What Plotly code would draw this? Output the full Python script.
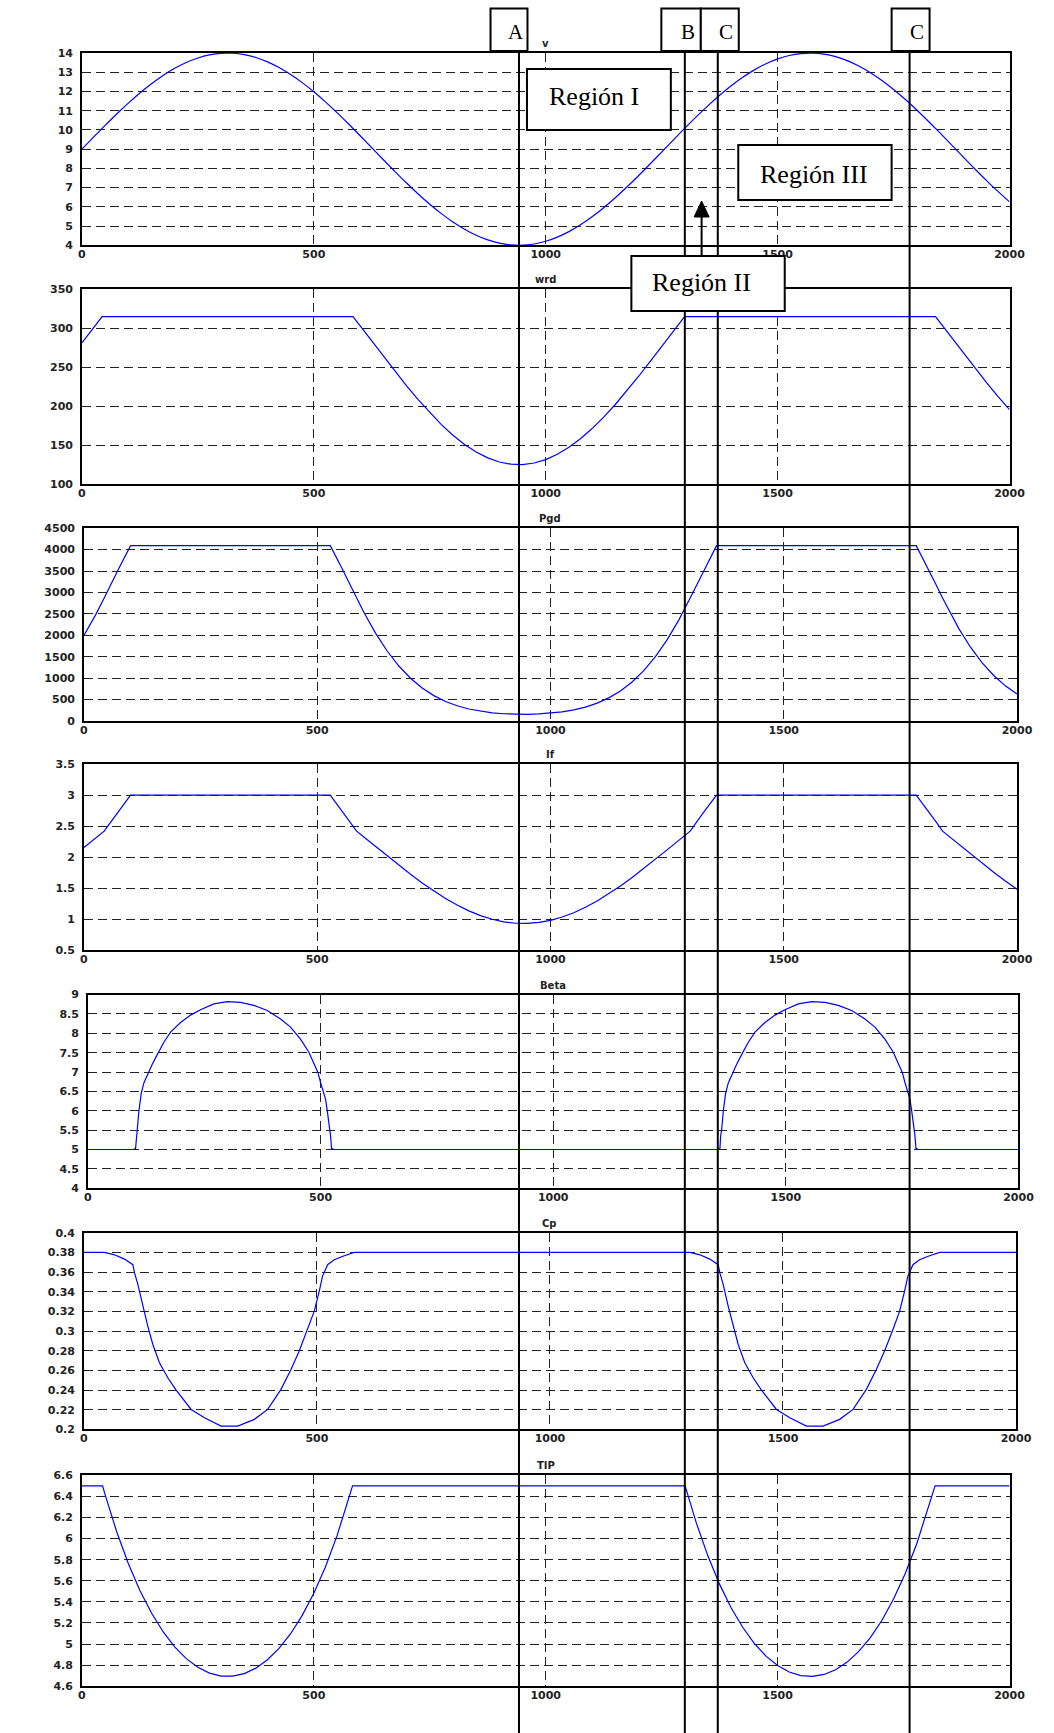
import plotly.graph_objects as go

W, H = 1054, 1733
# placement of the layout grid on the page
SX, DX = 0.982, 3.5
SY, DY = 0.993, 4.9

# ---------------- data ----------------
x_v = [0, 25, 50, 75, 100, 125, 150, 175, 200, 225, 250, 275, 300, 325, 350, 375, 400,
       425, 450, 475, 500, 525, 550, 575, 600, 625, 650, 675, 700, 725, 750, 775, 800,
       825, 850, 875, 900, 925, 950, 975, 1000, 1025, 1050, 1075, 1100, 1125, 1150,
       1175, 1200, 1225, 1250, 1275, 1300, 1325, 1350, 1375, 1400, 1425, 1450, 1475,
       1500, 1525, 1550, 1575, 1600, 1625, 1650, 1675, 1700, 1725, 1750, 1775, 1800,
       1825, 1850, 1875, 1900, 1925, 1950, 1975, 2000]
v_vals = [9.000, 9.624, 10.238, 10.832, 11.398, 11.927, 12.409, 12.840, 13.209, 13.513,
          13.746, 13.905, 13.988, 13.992, 13.919, 13.769, 13.544, 13.249, 12.888, 12.463,
          11.988, 11.463, 10.902, 10.310, 9.698, 9.075, 8.451, 7.835, 7.238, 6.668, 6.134,
          5.646, 5.211, 4.833, 4.520, 4.278, 4.110, 4.018, 4.004, 4.068, 4.209, 4.425,
          4.712, 5.067, 5.482, 5.953, 6.471, 7.029, 7.618, 8.228, 8.850, 9.475, 10.092,
          10.692, 11.266, 11.804, 12.299, 12.741, 13.126, 13.446, 13.697, 13.874, 13.975,
          13.998, 13.944, 13.812, 13.605, 13.326, 12.979, 12.571, 12.107, 11.594, 11.040,
          10.454, 9.846, 9.225, 8.600, 7.982, 7.379, 6.802, 6.259]

x_wrd = [0, 25, 43.5, 584.5, 600, 625, 650, 675, 700, 725, 750, 775, 800, 825, 850, 875,
         900, 925, 950, 975, 1000, 1025, 1050, 1075, 1100, 1125, 1150, 1175, 1200, 1225,
         1250, 1275, 1299.5, 1840.5, 1850, 1875, 1900, 1925, 1950, 1975, 2000]
wrd_vals = [281.3, 300.8, 315, 315, 303.1, 283.6, 264.1, 244.8, 226.2, 208.4, 191.7,
            176.4, 162.8, 151.0, 141.3, 133.7, 128.4, 125.6, 125.1, 127.1, 131.5, 138.3,
            147.3, 158.3, 171.3, 186.0, 202.2, 219.7, 238.1, 257.1, 276.6, 296.1, 315,
            315, 307.7, 288.3, 268.8, 249.4, 230.6, 212.6, 195.6]

x_pgd = [0, 25, 43.5, 50, 75, 100, 528, 550, 575, 584.5, 600, 625, 650, 675, 700, 725,
         750, 775, 800, 825, 850, 875, 900, 925, 950, 975, 1000, 1025, 1050, 1075, 1100,
         1125, 1150, 1175, 1200, 1225, 1250, 1275, 1299.5, 1325, 1350, 1356, 1784, 1800,
         1825, 1840.5, 1850, 1875, 1900, 1925, 1950, 1975, 2000]
pgd_vals = [1997, 2476, 2868, 3014, 3564, 4090, 4090, 3629, 3081, 2868, 2537, 2051, 1634,
            1284, 999, 771, 593, 457, 356, 281, 228, 192, 170, 158, 157, 165, 183, 214,
            260, 326, 417, 540, 701, 911, 1175, 1501, 1893, 2355, 2868, 3435, 3966, 4090,
            4090, 3757, 3214, 2868, 2664, 2162, 1728, 1362, 1062, 821, 632]

x_if = x_pgd
if_vals = [2.155, 2.308, 2.42, 2.489, 2.750, 3.0, 3.0, 2.781, 2.521, 2.42, 2.326, 2.173,
           2.020, 1.870, 1.723, 1.584, 1.453, 1.333, 1.227, 1.134, 1.057, 0.998, 0.957,
           0.934, 0.931, 0.947, 0.981, 1.034, 1.104, 1.191, 1.293, 1.408, 1.535, 1.672,
           1.816, 1.966, 2.118, 2.271, 2.42, 2.689, 2.941, 3.0, 3.0, 2.842, 2.584, 2.42,
           2.362, 2.210, 2.057, 1.906, 1.758, 1.616, 1.483]

x_beta = [0, 98.9, 102.4, 103.9, 106, 109.6, 114.6, 120.3, 131, 138.3, 149, 163.3, 177.7,
          199.1, 220.6, 242, 270.8, 299.4, 328, 356.7, 385.4, 414, 435.5, 457, 474.9,
          485.7, 494.3, 500, 505.7, 510.7, 514.3, 517.9, 521.5, 523.6, 528.7,
          1354.9, 1358.4, 1359.9, 1362, 1365.6, 1370.6, 1376.3, 1387, 1394.3, 1405,
          1419.3, 1433.7, 1455.1, 1476.6, 1498, 1526.8, 1555.4, 1584, 1612.7, 1641.4,
          1670, 1691.5, 1713, 1730.9, 1741.7, 1750.3, 1756, 1761.7, 1766.7, 1770.3,
          1773.9, 1777.5, 1779.6, 1784.7, 2000]
beta_vals = [5.0, 5.0, 5.03, 5.35, 5.51, 6.0, 6.45, 6.72, 7.03, 7.2, 7.45, 7.77, 8.03,
             8.28, 8.47, 8.61, 8.76, 8.82, 8.80, 8.72, 8.59, 8.37, 8.16, 7.85, 7.51, 7.21,
             6.99, 6.73, 6.51, 6.30, 6.01, 5.70, 5.35, 5.03, 5.0,
             5.0, 5.03, 5.35, 5.51, 6.0, 6.45, 6.72, 7.03, 7.2, 7.45, 7.77, 8.03, 8.28,
             8.47, 8.61, 8.76, 8.82, 8.80, 8.72, 8.59, 8.37, 8.16, 7.85, 7.51, 7.21, 6.99,
             6.73, 6.51, 6.30, 6.01, 5.70, 5.35, 5.03, 5.0, 5.0]

x_cp = [0, 44, 65.7, 87, 105, 108.6, 115.7, 126.4, 137, 147.9, 162.1, 180, 197.9, 230,
        258.6, 294.3, 330, 365.7, 394.3, 422.9, 444.3, 462, 480, 494.3, 505, 512, 522.9,
        537, 558.6, 580,
        1300, 1321.7, 1343, 1361, 1364.6, 1371.7, 1382.4, 1393, 1403.9, 1418.1, 1436,
        1453.9, 1486, 1514.6, 1550.3, 1586, 1621.7, 1650.3, 1678.9, 1700.3, 1718, 1736,
        1750.3, 1761, 1768, 1778.9, 1793, 1814.6, 1836, 2000]
cp_vals = [0.380, 0.380, 0.3776, 0.3732, 0.3675, 0.3593, 0.3475, 0.3254, 0.3051, 0.2864,
           0.2678, 0.2525, 0.2400, 0.2203, 0.2119, 0.2034, 0.2034, 0.2102, 0.2203, 0.2407,
           0.2610, 0.2797, 0.3017, 0.3203, 0.3407, 0.3559, 0.3675, 0.3725, 0.3766, 0.380,
           0.380, 0.3776, 0.3732, 0.3675, 0.3593, 0.3475, 0.3254, 0.3051, 0.2864, 0.2678,
           0.2525, 0.2400, 0.2203, 0.2119, 0.2034, 0.2034, 0.2102, 0.2203, 0.2407, 0.2610,
           0.2797, 0.3017, 0.3203, 0.3407, 0.3559, 0.3675, 0.3725, 0.3766, 0.380, 0.380]

x_tip = [0, 44.5, 50, 75, 100, 125, 150, 175, 200, 225, 250, 275, 300, 325, 350, 375,
         400, 425, 450, 475, 500, 525, 550, 575, 583.5, 1300.5, 1325, 1350, 1375, 1400,
         1425, 1450, 1475, 1500, 1525, 1550, 1575, 1600, 1625, 1650, 1675, 1700, 1725,
         1750, 1775, 1800, 1825, 1839.5, 2000]
tip_vals = [6.5, 6.5, 6.417, 6.065, 5.764, 5.508, 5.295, 5.117, 4.974, 4.862, 4.780,
            4.725, 4.697, 4.696, 4.720, 4.772, 4.851, 4.959, 5.098, 5.272, 5.481, 5.731,
            6.026, 6.372, 6.5, 6.5, 6.145, 5.832, 5.566, 5.342, 5.157, 5.005, 4.886,
            4.797, 4.735, 4.701, 4.694, 4.712, 4.757, 4.829, 4.930, 5.062, 5.226, 5.427,
            5.667, 5.951, 6.285, 6.5, 6.5]

x_ticks = [0, 500, 1000, 1500, 2000]
x_tick_text = ["0", "500", "1000", "1500", "2000"]

titles = ["v", "wrd", "Pgd", "If", "Beta", "Cp", "TIP"]
y_ticks = [
    [4, 5, 6, 7, 8, 9, 10, 11, 12, 13, 14],
    [100, 150, 200, 250, 300, 350],
    [0, 500, 1000, 1500, 2000, 2500, 3000, 3500, 4000, 4500],
    [0.5, 1, 1.5, 2, 2.5, 3, 3.5],
    [4, 4.5, 5, 5.5, 6, 6.5, 7, 7.5, 8, 8.5, 9],
    [0.2, 0.22, 0.24, 0.26, 0.28, 0.3, 0.32, 0.34, 0.36, 0.38, 0.4],
    [4.6, 4.8, 5, 5.2, 5.4, 5.6, 5.8, 6, 6.2, 6.4, 6.6],
]
y_tick_text = [
    ["4", "5", "6", "7", "8", "9", "10", "11", "12", "13", "14"],
    ["100", "150", "200", "250", "300", "350"],
    ["0", "500", "1000", "1500", "2000", "2500", "3000", "3500", "4000", "4500"],
    ["0.5", "1", "1.5", "2", "2.5", "3", "3.5"],
    ["4", "4.5", "5", "5.5", "6", "6.5", "7", "7.5", "8", "8.5", "9"],
    ["0.2", "0.22", "0.24", "0.26", "0.28", "0.3", "0.32", "0.34", "0.36", "0.38", "0.4"],
    ["4.6", "4.8", "5", "5.2", "5.4", "5.6", "5.8", "6", "6.2", "6.4", "6.6"],
]

series = [(x_v, v_vals), (x_wrd, wrd_vals), (x_pgd, pgd_vals), (x_if, if_vals),
          (x_beta, beta_vals), (x_cp, cp_vals), (x_tip, tip_vals)]

# panel frames in layout pixels: left, right, top, bottom
frames = [
    (81.5, 1010, 52, 244.3),
    (81.5, 1010, 288.3, 483.3),
    (83.5, 1017.5, 527.3, 720.3),
    (83.5, 1017.5, 763.5, 949.5),
    (87.5, 1019, 994, 1187.7),
    (83.5, 1016.5, 1232.3, 1429),
    (81.5, 1010, 1475, 1686),
]


def px(x):
    return ((x - DX) / SX) / W


def py(y):
    return 1 - ((y - DY) / SY) / H


tick_font = dict(family="DejaVu Sans", size=11, color="#222", weight="bold")
grid = dict(showgrid=True, gridcolor="#222", gridwidth=1, griddash="9px,5px",
            showline=True, mirror=True, linecolor="black", linewidth=1.5,
            zeroline=False, ticks="", tickfont=tick_font)

fig = go.Figure()
layout = dict(width=W, height=H, margin=dict(l=0, r=0, t=0, b=0),
              paper_bgcolor="white", plot_bgcolor="white", showlegend=False)

annotations = []
for i, ((xs, ys), (l, r, t, b)) in enumerate(zip(series, frames)):
    n = "" if i == 0 else str(i + 1)
    fig.add_trace(go.Scatter(x=xs, y=ys, mode="lines",
                             line=dict(color="#0000ff", width=1.2,
                                       shape="spline" if i == 0 else "linear"),
                             xaxis="x" + n, yaxis="y" + n, hoverinfo="skip"))
    yt = y_ticks[i]
    layout["xaxis" + n] = dict(domain=[px(l), px(r)], range=[0, 2000], anchor="y" + n,
                               tickvals=x_ticks, ticktext=x_tick_text,
                               ticklabelstandoff=-2, **grid)
    layout["yaxis" + n] = dict(domain=[py(b), py(t)], range=[yt[0], yt[-1]],
                               anchor="x" + n, tickvals=yt, ticktext=y_tick_text[i],
                               ticklabelstandoff=5, **grid)
    annotations.append(dict(text=titles[i], xref="paper", yref="paper",
                            x=px((l + r) / 2), y=py(t - 2), xanchor="center",
                            yanchor="bottom", showarrow=False,
                            font=dict(family="DejaVu Sans", size=10, color="#222",
                                      weight="bold")))

shapes = []
# region boundary markers
marker_x = [519, 685, 718, 910]
for mx in marker_x:
    shapes.append(dict(type="line", xref="paper", yref="paper", x0=px(mx), x1=px(mx),
                       y0=py(50), y1=-0.01, line=dict(color="black", width=2),
                       layer="above"))

# marker label boxes
label_boxes = [(490.5, 527.5, "A", 516), (661.5, 701, "B", 688),
               (701, 739, "C", 726.5), (892, 930, "C", 917)]
for l, r, txt, tx in label_boxes:
    shapes.append(dict(type="rect", xref="paper", yref="paper", x0=px(l), x1=px(r),
                       y0=py(50), y1=py(7.5), line=dict(color="black", width=2),
                       fillcolor="white", layer="above"))
    annotations.append(dict(text=txt, xref="paper", yref="paper", x=px(tx), y=py(31),
                            xanchor="center", yanchor="middle", showarrow=False,
                            font=dict(family="Liberation Serif", size=21, color="black")))

# region boxes: left, right, top, bottom, label, label centre
region_boxes = [(527, 671, 68, 129, "Región I", 594, 95),
                (738.5, 892, 144, 199, "Región III", 814, 173),
                (631.5, 785, 255, 310, "Región II", 702, 282)]
for l, r, t, b, txt, cx, cy in region_boxes:
    shapes.append(dict(type="rect", xref="paper", yref="paper", x0=px(l), x1=px(r),
                       y0=py(b), y1=py(t), line=dict(color="black", width=2),
                       fillcolor="white", layer="above"))
    annotations.append(dict(text=txt, xref="paper", yref="paper", x=px(cx),
                            y=py(cy), xanchor="center", yanchor="middle",
                            showarrow=False,
                            font=dict(family="Liberation Serif", size=26, color="black")))

# arrow from Región II box upward
ax_x = 701.8
shapes.append(dict(type="line", xref="paper", yref="paper", x0=px(ax_x), x1=px(ax_x),
                   y0=py(255), y1=py(213), line=dict(color="black", width=2),
                   layer="above"))
shapes.append(dict(type="path", xref="paper", yref="paper",
                   path=f"M {px(ax_x)} {py(200)} L {px(ax_x - 7.5)} {py(216)} "
                        f"L {px(ax_x + 7.5)} {py(216)} Z",
                   fillcolor="black", line=dict(color="black", width=1), layer="above"))

layout["shapes"] = shapes
layout["annotations"] = annotations
fig.update_layout(**layout)

fig.write_html("out.html")
